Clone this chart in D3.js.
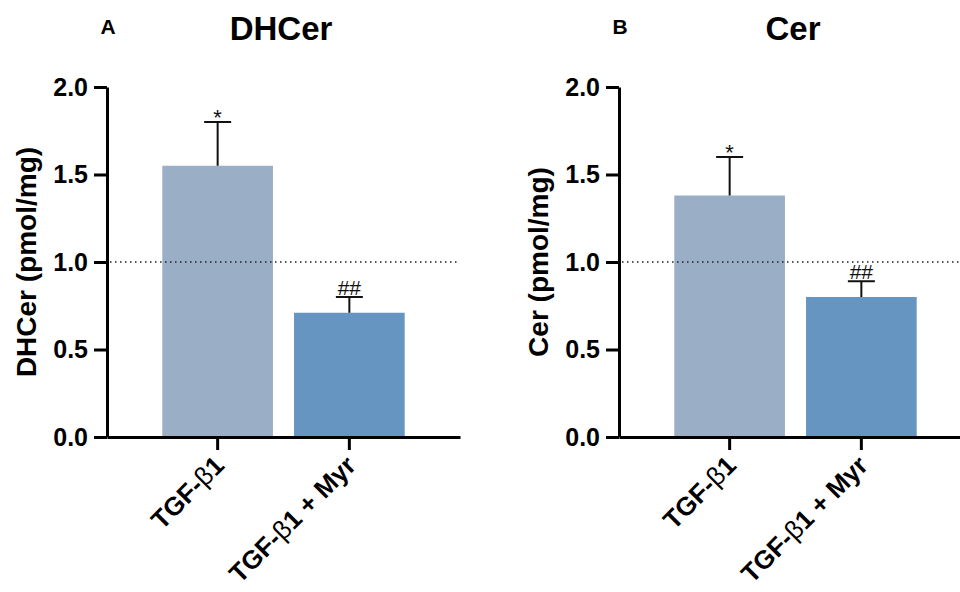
<!DOCTYPE html>
<html>
<head>
<meta charset="utf-8">
<script src="https://cdn.jsdelivr.net/npm/d3@7"></script>
<style>
  body { margin: 0; background: #fff; }
  svg { font-family: "Liberation Sans", Arial, sans-serif; }
  .axis path, .axis line { stroke: #000; stroke-width: 3; }
  .axis text { fill: #000; font-weight: bold; font-size: 25px; }
</style>
</head>
<body>
<div id="chart"></div>
<script>
// data
let groups = ['TGF-β1', 'TGF-β1 + Myr'];
let dhcerMean = [1.55, 0.71];
let dhcerSem = [0.25, 0.09];
let cerMean = [1.38, 0.80];
let cerSem = [0.22, 0.09];
let marks = ['*', '##'];
let yTicks = [0, 0.5, 1.0, 1.5, 2.0];
let barColors = ['#9aaec5', '#6595c0'];

let svg = d3.select('#chart').append('svg')
    .attr('width', 960)
    .attr('height', 592);

drawPanel(0, 'A', 'DHCer', 'DHCer (pmol/mg)', dhcerMean, dhcerSem);
drawPanel(512, 'B', 'Cer', 'Cer (pmol/mg)', cerMean, cerSem);

function drawPanel(dx, letter, title, yTitle, means, sems) {
    let g = svg.append('g').attr('transform', translate(dx, 0));

    let y = d3.scaleLinear().domain([0, 2]).range([437, 87]);
    let x = d3.scaleBand().domain(groups).range([107, 460])
        .paddingInner(0.16).paddingOuter(0.42);

    // bars
    g.selectAll('.bar')
        .data(groups)
        .enter()
        .append('rect')
            .attr('class', 'bar')
            .attr('x', (d) => x(d))
            .attr('y', (d, i) => y(means[i]))
            .attr('width', x.bandwidth())
            .attr('height', (d, i) => y(0) - y(means[i]))
            .style('fill', (d, i) => barColors[i]);

    // reference line at 1.0
    g.append('line')
        .attr('x1', 110).attr('x2', 458)
        .attr('y1', y(1)).attr('y2', y(1))
        .attr('stroke', '#222')
        .attr('stroke-width', 1.5)
        .attr('stroke-dasharray', '1.5,3.5');

    // error bars (upper only)
    let eb = g.selectAll('.err')
        .data(groups)
        .enter()
        .append('g')
            .attr('class', 'err');
    eb.append('line')
        .attr('x1', (d) => x(d) + x.bandwidth() / 2)
        .attr('x2', (d) => x(d) + x.bandwidth() / 2)
        .attr('y1', (d, i) => y(means[i]))
        .attr('y2', (d, i) => y(means[i] + sems[i]))
        .attr('stroke', '#111').attr('stroke-width', 2);
    eb.append('line')
        .attr('x1', (d) => x(d) + x.bandwidth() / 2 - 13.5)
        .attr('x2', (d) => x(d) + x.bandwidth() / 2 + 13.5)
        .attr('y1', (d, i) => y(means[i] + sems[i]))
        .attr('y2', (d, i) => y(means[i] + sems[i]))
        .attr('stroke', '#111').attr('stroke-width', 2);
    eb.append('text')
        .attr('x', (d) => x(d) + x.bandwidth() / 2)
        .attr('y', (d, i) => y(means[i] + sems[i]) - (i == 0 ? -3 : 2))
        .attr('text-anchor', 'middle')
        .style('font-size', (d, i) => i == 0 ? '22px' : '21px')
        .style('fill', '#111')
        .text((d, i) => marks[i]);

    // axes
    g.append('g')
        .attr('class', 'axis axis--y')
        .attr('transform', translate(107, 0))
        .call(d3.axisLeft(y).tickValues(yTicks).tickFormat(d3.format('.1f'))
            .tickSize(13).tickSizeOuter(0).tickPadding(6));

    let xAxis = g.append('g')
        .attr('class', 'axis axis--x')
        .attr('transform', translate(0, 437))
        .call(d3.axisBottom(x).tickSize(13).tickSizeOuter(0));
    xAxis.selectAll('.tick text').remove();
    xAxis.selectAll('.tick').each(function(d) {
        let t = d3.select(this).append('text')
            .attr('transform', translate(8, 30) + ' rotate(-45)')
            .attr('text-anchor', 'end')
            .attr('x', 0).attr('y', 0)
            .style('font-size', '26px');
        let parts = d.split('β');
        t.append('tspan').text(parts[0]);
        t.append('tspan').style('font-weight', 'normal').text('β');
        t.append('tspan').text(parts[1]);
    });

    // titles
    g.append('text')
        .attr('x', 281).attr('y', 40)
        .attr('text-anchor', 'middle')
        .style('font-weight', 'bold').style('font-size', '33px')
        .text(title);
    g.append('text')
        .attr('x', 108).attr('y', 34)
        .attr('text-anchor', 'middle')
        .style('font-weight', 'bold').style('font-size', '21px')
        .text(letter);
    g.append('text')
        .attr('transform', translate(36, 262) + ' rotate(-90)')
        .attr('text-anchor', 'middle')
        .style('font-weight', 'bold').style('font-size', '28px')
        .text(yTitle);
}

// helper method to make translating easier
function translate(x, y) {
    return 'translate(' + x + ',' + y + ')';
}
</script>
</body>
</html>
